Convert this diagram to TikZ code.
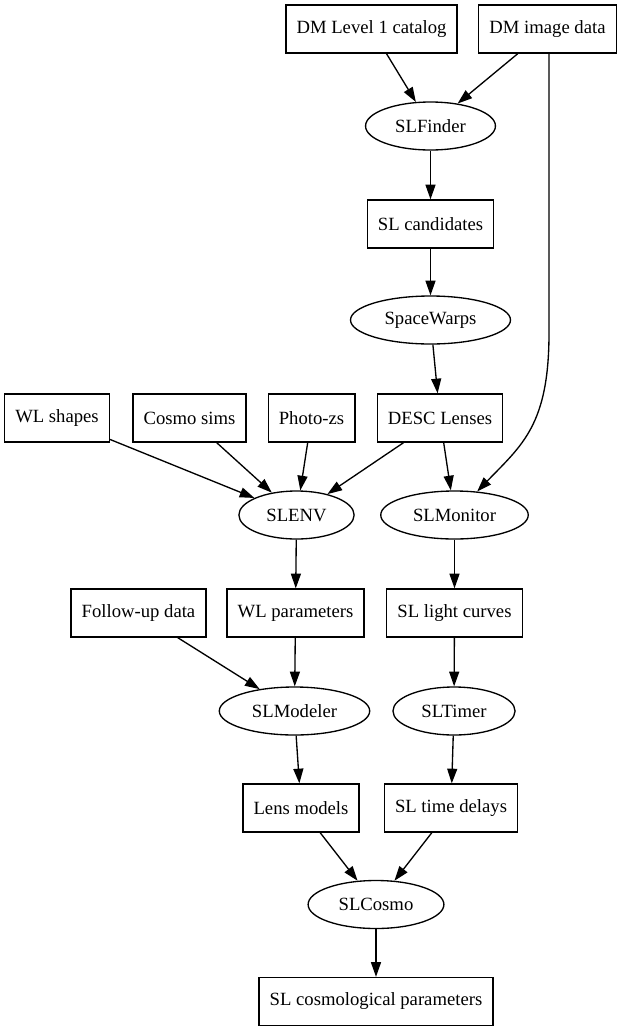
\documentclass[tikz,border=0pt]{standalone}
\usepackage{fontspec}
\setmainfont{Liberation Serif}
\usepackage{tikz}
\usetikzlibrary{shapes.geometric, arrows.meta}

\begin{document}
\begin{tikzpicture}[x=0.75pt, y=-0.75pt, line width=1pt,
  font=\fontsize{14}{17}\selectfont,
  >={Triangle[length=11pt, width=7.5pt]},
  data/.style={draw, rectangle, inner xsep=8pt, minimum height=36pt},
  task/.style={draw, ellipse, inner xsep=8pt, minimum height=36pt}]
  \useasboundingbox (0,0) rectangle (621,1032);

  \node[data] (cat)      at (371.5,29)   {DM Level 1 catalog};
  \node[data] (img)      at (547.5,29)   {DM image data};
  \node[task] (finder)   at (430.5,126)  {SLFinder};
  \node[data] (cand)     at (430.5,224)  {SL candidates};
  \node[task] (warps)    at (430.5,320)  {SpaceWarps};
  \node[data] (wlshapes) at (57,418)     {WL shapes};
  \node[data] (sims)     at (189.5,418)  {Cosmo sims};
  \node[data] (photoz)   at (311.5,418)  {Photo-zs};
  \node[data] (lenses)   at (440,418)    {DESC Lenses};
  \node[task] (slenv)    at (296.5,515)  {SLENV};
  \node[task] (monitor)  at (454.5,515)  {SLMonitor};
  \node[data] (followup) at (138.5,613)  {Follow-up data};
  \node[data] (wlpar)    at (295.5,613)  {WL parameters};
  \node[data] (curves)   at (454.5,613)  {SL light curves};
  \node[task] (modeler)  at (294.5,711)  {SLModeler};
  \node[task] (timer)    at (454,711)    {SLTimer};
  \node[data] (models)   at (301,808)    {Lens models};
  \node[data] (delays)   at (451,808)    {SL time delays};
  \node[task] (cosmo)    at (376,904.5)  {SLCosmo};
  \node[data] (params)   at (376,1001.5) {SL cosmological parameters};

  \path[->]
  (cat) edge (finder)
  (img) edge (finder)
  (finder) edge (cand)
  (cand) edge (warps)
  (warps) edge (lenses)
  (wlshapes) edge (slenv)
  (sims) edge (slenv)
  (photoz) edge (slenv)
  (lenses) edge (slenv)
  (lenses) edge (monitor)
  (slenv) edge (wlpar)
  (monitor) edge (curves)
  (followup) edge (modeler)
  (wlpar) edge (modeler)
  (curves) edge (timer)
  (modeler) edge (models)
  (timer) edge (delays)
  (models) edge (cosmo)
  (delays) edge (cosmo)
  (cosmo) edge (params);

  % image data also feeds the monitor
  \coordinate (bend) at (549,333);
  \draw[->] (img.south -| bend) -- (bend)
    .. controls (549,425) and (522,445) .. (monitor);
\end{tikzpicture}
\end{document}
